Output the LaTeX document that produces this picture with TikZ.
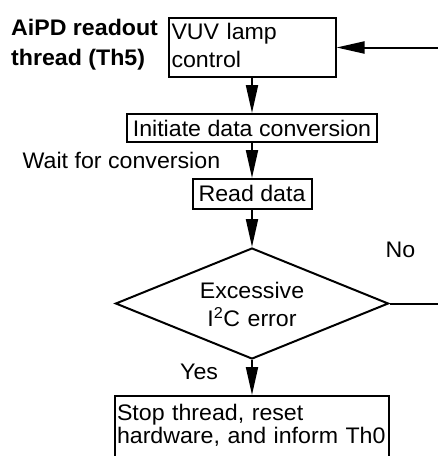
\documentclass[tikz,border=0pt]{standalone}
\usepackage{fontspec}
\setmainfont{Liberation Sans}[FakeStretch=1.03]
\usetikzlibrary{shapes.geometric,arrows.meta}

\begin{document}
\begin{tikzpicture}[x=1pt,y=-1pt,
  every node/.style={font=\fontsize{22.5}{28}\selectfont},
  box/.style={draw, line width=2pt, inner xsep=3pt, inner ysep=0pt},
  flow/.style={line width=2pt, -{Triangle[length=28pt,width=12pt]}},
  plain/.style={inner sep=0pt, anchor=base west}]
\useasboundingbox (0,0) rectangle (438,456);

% title of the thread
\node[inner sep=0pt, anchor=north west, align=left,
      font=\bfseries\fontsize{22.5}{30}\selectfont] (title) at (11,19)
  {AiPD readout\\thread (Th5)};

% process steps
\node[box, text width=161pt, align=left, text height=21.3pt, text depth=37.7pt]
  (vuv) at (252,47.5) {VUV lamp\\control};
\node[box, minimum width=250pt, text height=22pt, text depth=6pt]
  (init) at (252,128) {Initiate data conversion};
\node[box, minimum width=119pt, text height=22.7pt, text depth=7.3pt]
  (read) at (252,194) {Read data};
\node[draw, diamond, line width=2pt, aspect=2.46, minimum width=273pt,
      minimum height=111pt, inner sep=0pt, text width=130pt, align=center,
      text height=16pt, text depth=26.4pt,
      font=\fontsize{22.5}{27.7}\selectfont]
  (dec) at (252,303.5) {Excessive\\I\textsuperscript{2}C error};
\node[box, inner xsep=2pt, text width=270pt, align=left, text height=24.7pt,
      text depth=41.3pt, font=\fontsize{22.5}{22.7}\selectfont]
  (stop) at (252,429) {Stop thread, reset\\hardware, and inform Th0};

% side labels
\node[plain] (wait) at (22.5,168.3) {Wait for conversion};
\node[plain] (no) at (385.5,257.3) {No};
\node[plain] (yes) at (180,379.3) {Yes};

% loop ends leaving the frame
\coordinate (back) at (445,47.5);
\coordinate (loop) at (445,303.5);

% connectors
\draw[flow] (vuv.south) -- (init.north);
\draw[flow] (init.south) -- (read.north);
\draw[flow] (read.south) -- (dec.north);
\draw[flow] (dec.south) -- (stop.north);
\draw[flow] (back) -- (vuv.east);
\draw[line width=2pt] (dec.east) -- (loop);
\end{tikzpicture}
\end{document}
